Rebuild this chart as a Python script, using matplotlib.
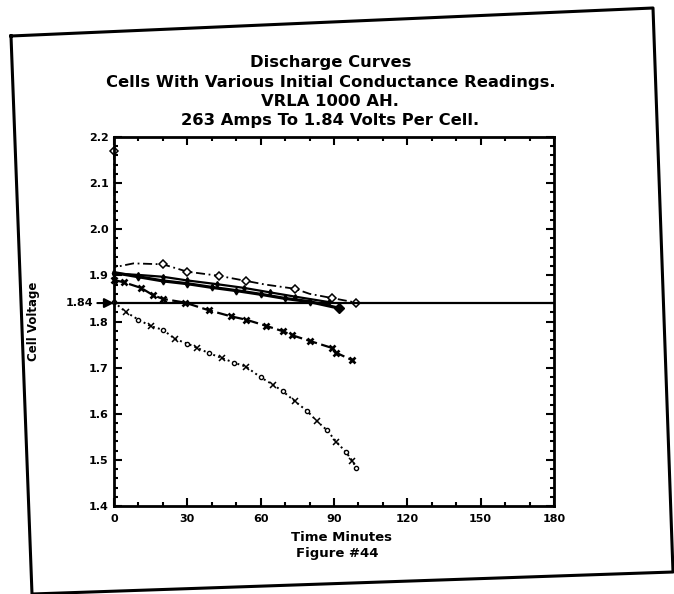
import matplotlib
matplotlib.use('Agg')
import matplotlib.pyplot as plt
from matplotlib.lines import Line2D
from matplotlib.ticker import MultipleLocator

# values (minutes, volts per cell)
a_min = [0, 0.5, 8, 20, 30, 43, 54, 62, 74, 80, 89, 99]
a_volts = [2.17, 1.918, 1.926, 1.924, 1.908, 1.899, 1.888, 1.880, 1.871, 1.860, 1.851, 1.841]

b_min = [0, 10, 20, 30, 40, 50, 60, 70, 80, 92]
b_volts = [1.906, 1.897, 1.888, 1.882, 1.874, 1.867, 1.859, 1.850, 1.843, 1.829]

c_min = [0, 10, 20, 30, 42, 53, 64, 74, 88]
c_volts = [1.904, 1.901, 1.897, 1.889, 1.881, 1.873, 1.863, 1.854, 1.842]

d_min = [0, 4, 11, 16, 20, 29, 39, 48, 54, 62, 69, 73, 80, 89, 91, 97.5]
d_volts = [1.890, 1.885, 1.873, 1.857, 1.849, 1.841, 1.824, 1.811, 1.804,
           1.791, 1.779, 1.770, 1.758, 1.743, 1.732, 1.716]

e_min = [0, 5, 10, 15, 20, 25, 30, 34, 39, 44, 49, 54, 60, 65, 69, 74,
         79, 83, 87, 91, 95, 97.5, 99]
e_volts = [1.842, 1.820, 1.804, 1.790, 1.782, 1.762, 1.752, 1.743, 1.731,
           1.721, 1.711, 1.702, 1.679, 1.663, 1.649, 1.627, 1.606, 1.584,
           1.565, 1.539, 1.516, 1.498, 1.483]

cutoff_volts = 1.84
x_ticks = [0, 30, 60, 90, 120, 150, 180]
y_ticks = [1.4, 1.5, 1.6, 1.7, 1.8, 1.9, 2.0, 2.1, 2.2]

title_lines = ['Discharge Curves',
               'Cells With Various Initial Conductance Readings.',
               'VRLA 1000 AH.',
               '263 Amps To 1.84 Volts Per Cell.']

plt.rcParams['font.family'] = ['DejaVu Sans']
plt.rcParams['font.weight'] = 'bold'

fig = plt.figure(figsize=(6.74, 5.94), dpi=100)
fig.patch.set_facecolor('white')

# outer frame of the scanned page (slightly skewed like the scan)
W, H = 674, 594
corners = [(11, 36), (653, 8), (673, 572), (32, 594), (11, 36)]
fig.add_artist(Line2D([c[0] / W for c in corners], [1 - c[1] / H for c in corners],
                      color='black', lw=2.2, transform=fig.transFigure))

title_y = [63, 83, 102, 121]
for line, yy in zip(title_lines, title_y):
    fig.text(0.49, 1 - yy / H, line, ha='center', va='center',
             fontsize=11.8, fontweight='bold')

ax = fig.add_axes([114 / W, 1 - 506 / H, 440 / W, 369 / H])

kw = dict(color='black', clip_on=False)
ax.plot(a_min, a_volts, ls=(0, (5, 2, 1, 2)), lw=1.3, marker='D', ms=4,
        mfc='white', mew=1.1, markevery=[0, 3, 4, 5, 6, 8, 10, 11], **kw)
ax.plot(b_min, b_volts, ls='-', lw=2.3, marker='d', ms=3.5,
        markevery=list(range(len(b_min) - 1)), **kw)
ax.plot(b_min[-1:], b_volts[-1:], ls='none', marker='D', ms=5, **kw)
ax.plot(c_min, c_volts, ls='-', lw=1.6, marker='d', ms=3, **kw)
ax.plot(d_min, d_volts, ls=(0, (5, 2)), lw=1.6, marker='x', ms=5, mew=1.9, **kw)
ax.plot(e_min, e_volts, ls=':', lw=1.4, marker='x', ms=4, mew=1.1,
        markevery=slice(1, None, 2), **kw)
ax.plot(e_min[::2], e_volts[::2], ls='none', marker='o', ms=3, mfc='white',
        mew=1.0, **kw)

ax.axhline(cutoff_volts, color='black', lw=1.6)
ax.annotate('', xy=(0, cutoff_volts), xytext=(-12, 0), textcoords='offset points',
            arrowprops=dict(arrowstyle='-|>', color='black', lw=1.5,
                            mutation_scale=14, shrinkA=0, shrinkB=0))
ax.text(-0.048, cutoff_volts, '1.84', transform=ax.get_yaxis_transform(),
        ha='right', va='center', fontsize=8, fontweight='bold')

ax.set_xlim(0, 180)
ax.set_ylim(1.4, 2.2)
ax.set_xticks(x_ticks)
ax.set_yticks(y_ticks)
ax.set_yticklabels([f'{v:.1f}' for v in y_ticks])
ax.xaxis.set_minor_locator(MultipleLocator(10))
ax.yaxis.set_minor_locator(MultipleLocator(0.02))
ax.tick_params(which='both', direction='in', top=True, right=True, width=1.5,
               labelsize=8)
ax.tick_params(which='major', length=6)
ax.tick_params(which='minor', length=3)
ax.tick_params(axis='x', pad=6)
ax.tick_params(axis='y', pad=4)
for s in ax.spines.values():
    s.set_linewidth(2)

ax.set_xlabel('Time Minutes', fontsize=9.5, fontweight='bold')
ax.xaxis.set_label_coords(0.516, -0.068)
ax.set_ylabel('Cell Voltage', fontsize=8.5, fontweight='bold')
ax.yaxis.set_label_coords(-0.168, 0.5)

fig.text(337 / W, 1 - 553 / H, 'Figure #44', ha='center', va='center',
         fontsize=9.5, fontweight='bold')

fig.savefig('out.png', dpi=100)
